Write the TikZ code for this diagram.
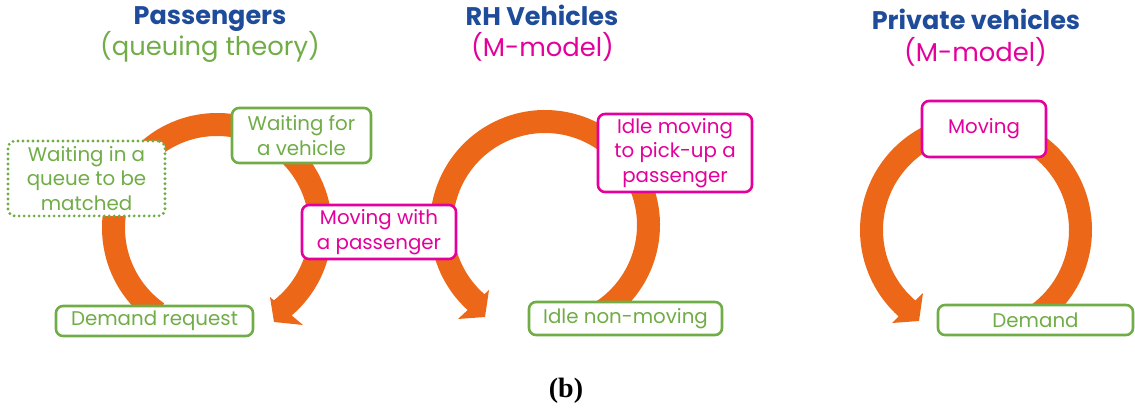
\documentclass[tikz,border=0pt]{standalone}
\usepackage{fontspec}
\setmainfont{Poppins}
\newfontfamily\capfont{Liberation Serif}
\usetikzlibrary{calc}

\definecolor{tblue}{RGB}{30,76,154}
\definecolor{pgreen}{RGB}{112,173,71}
\definecolor{pmag}{RGB}{228,0,155}
\definecolor{porange}{RGB}{236,104,24}

\tikzset{
  boxbase/.style={fill=white, line width=2.6pt, rounded corners=7pt,
    inner sep=0pt, outer sep=0pt, align=center,
    font=\fontsize{19.8}{24.5}\selectfont},
  gbox/.style={boxbase, draw=pgreen, text=pgreen},
  gdotbox/.style={boxbase, draw=pgreen, text=pgreen, line cap=round,
    dash pattern=on 0pt off 5pt, line width=3.2pt},
  mbox/.style={boxbase, draw=pmag, text=pmag},
  title/.style={anchor=base, text=tblue, font=\fontsize{25.5}{30}\selectfont\bfseries},
  subtitle/.style={anchor=base, font=\fontsize{25.8}{30}\selectfont},
  cyclearrow/.style={fill=porange}
}

\begin{document}
\begin{tikzpicture}[x=1pt, y=-1pt]
  \useasboundingbox (0,0) rectangle (1135,411);

  % centres of the three cycles
  \coordinate (cP) at (217,228);
  \coordinate (cR) at (545,225);
  \coordinate (cV) at (976,230);

  % passenger cycle (clockwise)
  \fill[cyclearrow] ($(cP)+(125:115)$) arc[start angle=125, end angle=409.5, radius=115]
    -- (303,325) -- (274,322) -- (270,297)
    -- ($(cP)+(411.8:92)$) arc[start angle=411.8, end angle=125, radius=92] -- cycle;

  % ride-hailing vehicle cycle (counter-clockwise)
  \fill[cyclearrow] ($(cR)+(58:115)$) arc[start angle=58, end angle=-227.7, radius=115]
    -- (458,319) -- (485,317) -- (489,290)
    -- ($(cR)+(-228.8:92)$) arc[start angle=-228.8, end angle=58, radius=92] -- cycle;

  % private vehicle cycle (counter-clockwise)
  \fill[cyclearrow] ($(cV)+(55:116)$) arc[start angle=55, end angle=-228.2, radius=116]
    -- (892,323) -- (919,321) -- (923,293)
    -- ($(cV)+(-229.3:93)$) arc[start angle=-229.3, end angle=55, radius=93] -- cycle;

  % titles
  \node[title] (tP) at (210,25) {Passengers};
  \node[subtitle, text=pgreen] (sP) at (210,55.5) {(queuing theory)};
  \node[title] (tR) at (542,26) {RH Vehicles};
  \node[subtitle, text=pmag] (sR) at (542.5,57) {(M-model)};
  \node[title] (tV) at (976,30) {Private vehicles};
  \node[subtitle, text=pmag] (sV) at (975.5,62) {(M-model)};

  % state boxes
  \node[gdotbox, minimum width=157pt, minimum height=75pt] (queue) at (86.5,178.5)
    {Waiting in a\\queue to be\\matched};
  \node[gbox, minimum width=139pt, minimum height=55pt] (wait) at (301.5,135.5)
    {Waiting for\\a vehicle};
  \node[mbox, minimum width=154pt, minimum height=54pt] (withp) at (379,232)
    {Moving with\\a passenger};
  \node[gbox, minimum width=197pt, minimum height=30pt] (dreq) at (154.5,321)
    {Demand request};
  \node[mbox, minimum width=154pt, minimum height=78pt] (pick) at (675,153)
    {Idle moving\\to pick-up a\\passenger};
  \node[gbox, minimum width=193pt, minimum height=33pt] (idle) at (625.5,318.5)
    {Idle non-moving};
  \node[mbox, minimum width=124pt, minimum height=56pt] (mov) at (984,129)
    {Moving};
  \node[gbox, minimum width=195pt, minimum height=30pt] (dem) at (1035.5,320)
    {Demand};

  % sub-figure label
  \node[anchor=base, font=\capfont\bfseries\fontsize{28}{32}\selectfont] (lab) at (566,397) {(b)};
\end{tikzpicture}
\end{document}
